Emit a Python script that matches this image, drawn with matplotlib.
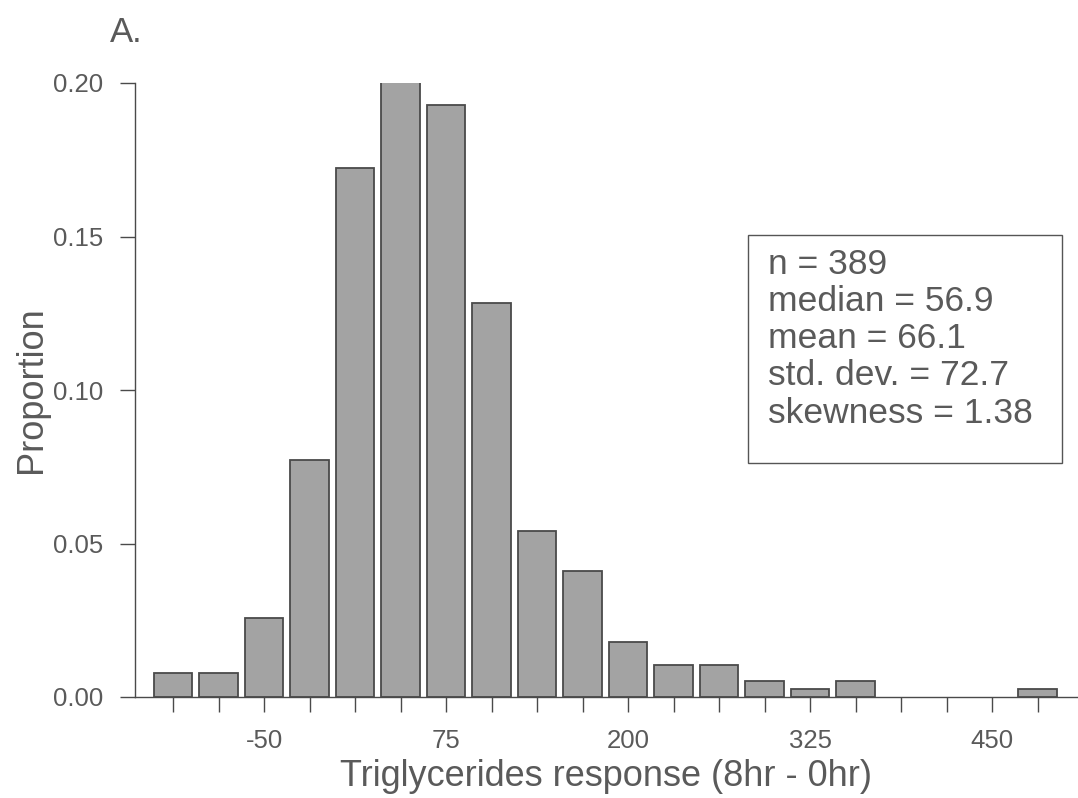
"""Histogram of triglycerides response (panel A)."""

import numpy as np
import matplotlib
matplotlib.use('Agg')
import matplotlib.pyplot as plt
from matplotlib.patches import Rectangle

# bin centres (bin width 31.25) and proportions
bin_centers = [-112.5, -81.25, -50, -18.75, 12.5, 43.75, 75, 106.25, 137.5,
               168.75, 200, 231.25, 262.5, 293.75, 325, 356.25, 387.5,
               418.75, 450, 481.25]
proportions = [0.0077, 0.0077, 0.0257, 0.0771, 0.1722, 0.2005, 0.1928,
               0.1285, 0.0540, 0.0411, 0.0180, 0.0103, 0.0103, 0.0051,
               0.0026, 0.0051, 0.0, 0.0, 0.0, 0.0026]
x_labels = [-50, 75, 200, 325, 450]
y_ticks = [0.00, 0.05, 0.10, 0.15, 0.20]
stats_lines = ['n = 389', 'median = 56.9', 'mean = 66.1',
               'std. dev. = 72.7', 'skewness = 1.38']

text_color = '#5a5a5a'
plt.rcParams['font.family'] = ['Liberation Sans', 'DejaVu Sans']

W, H = 1078, 798
fig = plt.figure(figsize=(W / 100, H / 100), dpi=100)
ax = fig.add_axes([135 / W, 1 - 697 / H, 1 - 135 / W, (697 - 83) / H])

# bars (skip empty bins)
xs = [c for c, p in zip(bin_centers, proportions) if p > 0]
hs = [p for p in proportions if p > 0]
ax.bar(xs, hs, width=26.5, color='#a3a3a3', edgecolor='#4a4a4a',
       linewidth=1.3, zorder=2)

ax.set_xlim(-138.6, 509)
ax.set_ylim(0, 0.2)

# ticks: every bin centre gets a tick mark, only every 4th labelled
ax.set_xticks(bin_centers)
ax.set_xticklabels([str(int(c)) if c in x_labels else '' for c in bin_centers])
ax.set_yticks(y_ticks)
ax.set_yticklabels([f'{v:.2f}' for v in y_ticks])
ax.tick_params(axis='both', direction='out', length=11, width=1.0,
               color='#4a4a4a', labelcolor=text_color, labelsize=18.5)
ax.tick_params(axis='x', pad=12)
ax.tick_params(axis='y', pad=12)

for side in ['top', 'right']:
    ax.spines[side].set_visible(False)
for side in ['left', 'bottom']:
    ax.spines[side].set_color('#4a4a4a')
    ax.spines[side].set_linewidth(1.0)

ax.set_xlabel('Triglycerides response (8hr - 0hr)', fontsize=26,
              color=text_color, labelpad=4)
ax.set_ylabel('Proportion', fontsize=26, color=text_color, labelpad=3)

# stats box
fig.patches.append(Rectangle((748 / W, 1 - 463 / H), 314 / W, 228 / H,
                             transform=fig.transFigure, facecolor='white',
                             edgecolor='#555555', linewidth=1.0, zorder=3))
for i, line in enumerate(stats_lines):
    fig.text(768 / W, 1 - (264 + 37.3 * i) / H, line, fontsize=25.5,
             color=text_color, va='center', ha='left', zorder=4)

fig.text(110 / W, 1 - 32 / H, 'A.', fontsize=25, color=text_color,
         va='center', ha='left')

fig.savefig('out.png', dpi=100)
